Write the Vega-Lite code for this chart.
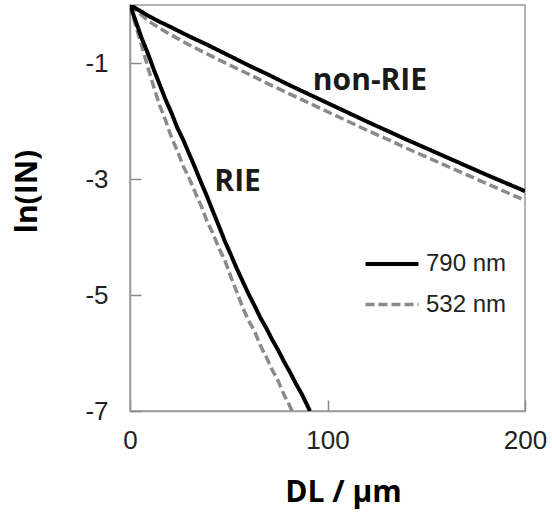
{
  "$schema": "https://vega.github.io/schema/vega-lite/v6.json",
  "width": 395,
  "height": 406,
  "autosize": {"type": "none"},
  "padding": {"left": 130, "top": 5, "right": 27, "bottom": 108},
  "background": "white",
  "config": {
    "view": {"stroke": "#9a9a9a", "strokeWidth": 1.5},
    "axis": {
      "grid": false,
      "domainColor": "#9a9a9a",
      "domainWidth": 1.5,
      "tickColor": "#8a8a8a",
      "tickWidth": 1.5,
      "tickSize": -11,
      "labelFont": "Liberation Sans",
      "labelFontSize": 26,
      "labelColor": "#222222",
      "titleFont": "Open Sans",
      "titleFontWeight": "bold",
      "titleFontSize": 30,
      "titleColor": "#000000"
    }
  },
  "datasets": {
    "curves": [
      {"sample": "RIE", "wavelength": "532 nm", "d": 0, "lnI": 0},
      {"sample": "RIE", "wavelength": "532 nm", "d": 3, "lnI": -0.37},
      {"sample": "RIE", "wavelength": "532 nm", "d": 6, "lnI": -0.71},
      {"sample": "RIE", "wavelength": "532 nm", "d": 9, "lnI": -1.07},
      {"sample": "RIE", "wavelength": "532 nm", "d": 12, "lnI": -1.41},
      {"sample": "RIE", "wavelength": "532 nm", "d": 15, "lnI": -1.73},
      {"sample": "RIE", "wavelength": "532 nm", "d": 18, "lnI": -1.99},
      {"sample": "RIE", "wavelength": "532 nm", "d": 21, "lnI": -2.28},
      {"sample": "RIE", "wavelength": "532 nm", "d": 24, "lnI": -2.52},
      {"sample": "RIE", "wavelength": "532 nm", "d": 27, "lnI": -2.78},
      {"sample": "RIE", "wavelength": "532 nm", "d": 30, "lnI": -2.99},
      {"sample": "RIE", "wavelength": "532 nm", "d": 33, "lnI": -3.23},
      {"sample": "RIE", "wavelength": "532 nm", "d": 36, "lnI": -3.46},
      {"sample": "RIE", "wavelength": "532 nm", "d": 39, "lnI": -3.73},
      {"sample": "RIE", "wavelength": "532 nm", "d": 42, "lnI": -3.94},
      {"sample": "RIE", "wavelength": "532 nm", "d": 45, "lnI": -4.19},
      {"sample": "RIE", "wavelength": "532 nm", "d": 48, "lnI": -4.40},
      {"sample": "RIE", "wavelength": "532 nm", "d": 51, "lnI": -4.68},
      {"sample": "RIE", "wavelength": "532 nm", "d": 54, "lnI": -4.94},
      {"sample": "RIE", "wavelength": "532 nm", "d": 57, "lnI": -5.21},
      {"sample": "RIE", "wavelength": "532 nm", "d": 60, "lnI": -5.44},
      {"sample": "RIE", "wavelength": "532 nm", "d": 63, "lnI": -5.62},
      {"sample": "RIE", "wavelength": "532 nm", "d": 66, "lnI": -5.87},
      {"sample": "RIE", "wavelength": "532 nm", "d": 69, "lnI": -6.07},
      {"sample": "RIE", "wavelength": "532 nm", "d": 72, "lnI": -6.29},
      {"sample": "RIE", "wavelength": "532 nm", "d": 75, "lnI": -6.48},
      {"sample": "RIE", "wavelength": "532 nm", "d": 78, "lnI": -6.72},
      {"sample": "RIE", "wavelength": "532 nm", "d": 81, "lnI": -6.92},
      {"sample": "RIE", "wavelength": "532 nm", "d": 82, "lnI": -7.0},
      {"sample": "non-RIE", "wavelength": "532 nm", "d": 0, "lnI": 0},
      {"sample": "non-RIE", "wavelength": "532 nm", "d": 5, "lnI": -0.15},
      {"sample": "non-RIE", "wavelength": "532 nm", "d": 10, "lnI": -0.29},
      {"sample": "non-RIE", "wavelength": "532 nm", "d": 15, "lnI": -0.40},
      {"sample": "non-RIE", "wavelength": "532 nm", "d": 20, "lnI": -0.50},
      {"sample": "non-RIE", "wavelength": "532 nm", "d": 30, "lnI": -0.69},
      {"sample": "non-RIE", "wavelength": "532 nm", "d": 40, "lnI": -0.86},
      {"sample": "non-RIE", "wavelength": "532 nm", "d": 50, "lnI": -1.03},
      {"sample": "non-RIE", "wavelength": "532 nm", "d": 60, "lnI": -1.19},
      {"sample": "non-RIE", "wavelength": "532 nm", "d": 70, "lnI": -1.36},
      {"sample": "non-RIE", "wavelength": "532 nm", "d": 80, "lnI": -1.52},
      {"sample": "non-RIE", "wavelength": "532 nm", "d": 90, "lnI": -1.68},
      {"sample": "non-RIE", "wavelength": "532 nm", "d": 100, "lnI": -1.84},
      {"sample": "non-RIE", "wavelength": "532 nm", "d": 110, "lnI": -2.00},
      {"sample": "non-RIE", "wavelength": "532 nm", "d": 120, "lnI": -2.16},
      {"sample": "non-RIE", "wavelength": "532 nm", "d": 130, "lnI": -2.31},
      {"sample": "non-RIE", "wavelength": "532 nm", "d": 140, "lnI": -2.47},
      {"sample": "non-RIE", "wavelength": "532 nm", "d": 150, "lnI": -2.62},
      {"sample": "non-RIE", "wavelength": "532 nm", "d": 160, "lnI": -2.77},
      {"sample": "non-RIE", "wavelength": "532 nm", "d": 170, "lnI": -2.92},
      {"sample": "non-RIE", "wavelength": "532 nm", "d": 180, "lnI": -3.07},
      {"sample": "non-RIE", "wavelength": "532 nm", "d": 190, "lnI": -3.22},
      {"sample": "non-RIE", "wavelength": "532 nm", "d": 200, "lnI": -3.37},
      {"sample": "RIE", "wavelength": "790 nm", "d": 0, "lnI": 0},
      {"sample": "RIE", "wavelength": "790 nm", "d": 3, "lnI": -0.29},
      {"sample": "RIE", "wavelength": "790 nm", "d": 6, "lnI": -0.58},
      {"sample": "RIE", "wavelength": "790 nm", "d": 9, "lnI": -0.83},
      {"sample": "RIE", "wavelength": "790 nm", "d": 12, "lnI": -1.11},
      {"sample": "RIE", "wavelength": "790 nm", "d": 15, "lnI": -1.37},
      {"sample": "RIE", "wavelength": "790 nm", "d": 18, "lnI": -1.63},
      {"sample": "RIE", "wavelength": "790 nm", "d": 21, "lnI": -1.86},
      {"sample": "RIE", "wavelength": "790 nm", "d": 24, "lnI": -2.12},
      {"sample": "RIE", "wavelength": "790 nm", "d": 27, "lnI": -2.33},
      {"sample": "RIE", "wavelength": "790 nm", "d": 30, "lnI": -2.57},
      {"sample": "RIE", "wavelength": "790 nm", "d": 33, "lnI": -2.81},
      {"sample": "RIE", "wavelength": "790 nm", "d": 36, "lnI": -3.06},
      {"sample": "RIE", "wavelength": "790 nm", "d": 39, "lnI": -3.30},
      {"sample": "RIE", "wavelength": "790 nm", "d": 42, "lnI": -3.56},
      {"sample": "RIE", "wavelength": "790 nm", "d": 45, "lnI": -3.81},
      {"sample": "RIE", "wavelength": "790 nm", "d": 48, "lnI": -4.07},
      {"sample": "RIE", "wavelength": "790 nm", "d": 51, "lnI": -4.30},
      {"sample": "RIE", "wavelength": "790 nm", "d": 54, "lnI": -4.54},
      {"sample": "RIE", "wavelength": "790 nm", "d": 57, "lnI": -4.76},
      {"sample": "RIE", "wavelength": "790 nm", "d": 60, "lnI": -4.98},
      {"sample": "RIE", "wavelength": "790 nm", "d": 63, "lnI": -5.18},
      {"sample": "RIE", "wavelength": "790 nm", "d": 66, "lnI": -5.39},
      {"sample": "RIE", "wavelength": "790 nm", "d": 69, "lnI": -5.57},
      {"sample": "RIE", "wavelength": "790 nm", "d": 72, "lnI": -5.77},
      {"sample": "RIE", "wavelength": "790 nm", "d": 75, "lnI": -5.95},
      {"sample": "RIE", "wavelength": "790 nm", "d": 78, "lnI": -6.15},
      {"sample": "RIE", "wavelength": "790 nm", "d": 81, "lnI": -6.33},
      {"sample": "RIE", "wavelength": "790 nm", "d": 84, "lnI": -6.53},
      {"sample": "RIE", "wavelength": "790 nm", "d": 87, "lnI": -6.71},
      {"sample": "RIE", "wavelength": "790 nm", "d": 90, "lnI": -6.92},
      {"sample": "RIE", "wavelength": "790 nm", "d": 91.1, "lnI": -7.0},
      {"sample": "non-RIE", "wavelength": "790 nm", "d": 0, "lnI": 0},
      {"sample": "non-RIE", "wavelength": "790 nm", "d": 5, "lnI": -0.10},
      {"sample": "non-RIE", "wavelength": "790 nm", "d": 10, "lnI": -0.20},
      {"sample": "non-RIE", "wavelength": "790 nm", "d": 15, "lnI": -0.29},
      {"sample": "non-RIE", "wavelength": "790 nm", "d": 20, "lnI": -0.37},
      {"sample": "non-RIE", "wavelength": "790 nm", "d": 30, "lnI": -0.54},
      {"sample": "non-RIE", "wavelength": "790 nm", "d": 40, "lnI": -0.70},
      {"sample": "non-RIE", "wavelength": "790 nm", "d": 50, "lnI": -0.87},
      {"sample": "non-RIE", "wavelength": "790 nm", "d": 60, "lnI": -1.04},
      {"sample": "non-RIE", "wavelength": "790 nm", "d": 70, "lnI": -1.20},
      {"sample": "non-RIE", "wavelength": "790 nm", "d": 80, "lnI": -1.37},
      {"sample": "non-RIE", "wavelength": "790 nm", "d": 90, "lnI": -1.53},
      {"sample": "non-RIE", "wavelength": "790 nm", "d": 100, "lnI": -1.69},
      {"sample": "non-RIE", "wavelength": "790 nm", "d": 110, "lnI": -1.85},
      {"sample": "non-RIE", "wavelength": "790 nm", "d": 120, "lnI": -2.01},
      {"sample": "non-RIE", "wavelength": "790 nm", "d": 130, "lnI": -2.165},
      {"sample": "non-RIE", "wavelength": "790 nm", "d": 140, "lnI": -2.32},
      {"sample": "non-RIE", "wavelength": "790 nm", "d": 150, "lnI": -2.47},
      {"sample": "non-RIE", "wavelength": "790 nm", "d": 160, "lnI": -2.62},
      {"sample": "non-RIE", "wavelength": "790 nm", "d": 170, "lnI": -2.77},
      {"sample": "non-RIE", "wavelength": "790 nm", "d": 180, "lnI": -2.92},
      {"sample": "non-RIE", "wavelength": "790 nm", "d": 190, "lnI": -3.065},
      {"sample": "non-RIE", "wavelength": "790 nm", "d": 200, "lnI": -3.21}
    ],
    "notes": [
      {"label": "non-RIE", "d": 121.5, "lnI": -1.31},
      {"label": "RIE", "d": 54.5, "lnI": -3.05}
    ]
  },
  "layer": [
    {
      "data": {"name": "curves"},
      "mark": {"type": "line", "strokeCap": "butt", "strokeJoin": "round", "clip": true},
      "encoding": {
        "x": {
          "field": "d", "type": "quantitative",
          "scale": {"domain": [0, 200], "nice": false, "zero": false},
          "axis": {"values": [0, 100, 200], "labelExpr": "'' + datum.value", "title": "DL / µm", "titleX": 213, "labelPadding": 27, "titlePadding": 24, "labelFlush": false}
        },
        "y": {
          "field": "lnI", "type": "quantitative",
          "scale": {"domain": [-7, 0], "nice": false, "zero": false},
          "axis": {"values": [-1, -3, -5, -7], "labelExpr": "'' + datum.value", "title": "ln(IN)", "titleY": 186, "labelPadding": 33, "titlePadding": 42, "labelFlush": false}
        },
        "detail": {"field": "sample"},
        "color": {
          "field": "wavelength", "type": "nominal",
          "scale": {"domain": ["790 nm", "532 nm"], "range": ["#000000", "#8a8a8a"]},
          "legend": {
            "title": null,
            "orient": "none",
            "legendX": 249,
            "legendY": 246,
            "padding": 0,
            "symbolType": "M-2.5,0H2.5",
            "symbolSize": 450,
            "symbolStrokeWidth": 3,
            "labelFont": "Liberation Sans",
            "labelFontSize": 24,
            "labelColor": "#222222",
            "labelOffset": 21,
            "rowPadding": 16
          }
        },
        "strokeDash": {
          "field": "wavelength", "type": "nominal",
          "scale": {"domain": ["790 nm", "532 nm"], "range": [[1, 0], [9, 4]]},
          "legend": null
        },
        "strokeWidth": {
          "field": "wavelength", "type": "nominal",
          "scale": {"domain": ["790 nm", "532 nm"], "range": [4, 3.5]},
          "legend": null
        },
        "order": {"field": "d", "type": "quantitative"}
      }
    },
    {
      "data": {"name": "notes"},
      "mark": {"type": "text", "font": "Open Sans", "fontWeight": "bold", "fontSize": 30, "color": "#1a1a1a", "align": "center", "baseline": "middle"},
      "encoding": {
        "x": {"field": "d", "type": "quantitative"},
        "y": {"field": "lnI", "type": "quantitative"},
        "text": {"field": "label"}
      }
    }
  ]
}
